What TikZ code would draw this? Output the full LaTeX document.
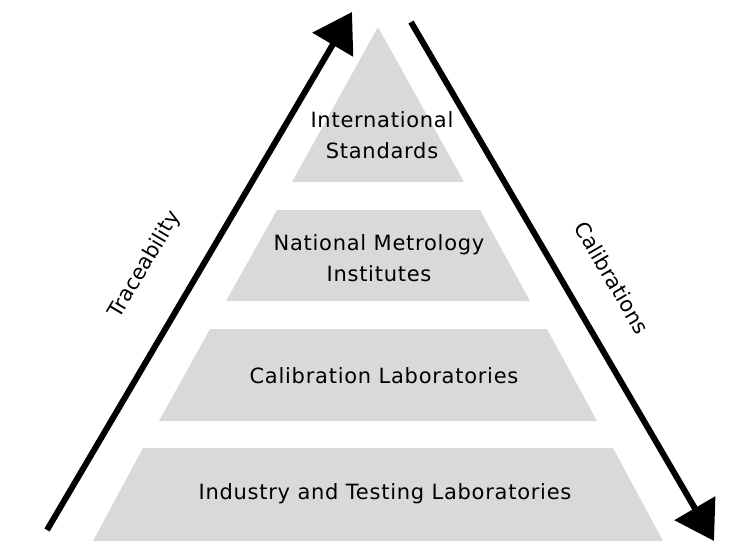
\documentclass[tikz,border=0pt]{standalone}
\usepackage{fontspec}
\setmainfont{DejaVu Sans}
\newfontfamily\tierfont[LetterSpace=3.5]{DejaVu Sans}
\usetikzlibrary{arrows.meta}
\definecolor{band}{HTML}{D9D9D9}
\begin{document}
\begin{tikzpicture}[x=1pt,y=-1pt,
  tier/.style={fill=band,draw=none},
  tierlabel/.style={align=center,inner sep=0pt,font=\tierfont\fontsize{21}{31}\selectfont},
  sidelabel/.style={inner sep=0pt,font=\fontsize{21}{25}\selectfont},
  flow/.style={line width=6pt,-{Triangle[length=38pt,width=46pt]}}]
\useasboundingbox (0,0) rectangle (740,551);
% pyramid tiers, from the apex down
\path[tier] (378,27) -- (464,182) -- (292,182) -- cycle;
\path[tier] (277,210) -- (480,210) -- (530,301) -- (226,301) -- cycle;
\path[tier] (210,329) -- (547,329) -- (597,421) -- (159,421) -- cycle;
\path[tier] (143,448) -- (613,448) -- (663,541) -- (93,541) -- cycle;
% tier captions
\node[tierlabel] (intl) at (382,135) {International\\Standards};
\node[tierlabel] (nmi) at (379,258) {National Metrology\\Institutes};
\node[tierlabel] (cal) at (384,376) {Calibration Laboratories};
\node[tierlabel] (ind) at (385,494) {Industry and Testing Laboratories};
% side arrows
\coordinate (upstart) at (47,530);
\coordinate (uptip) at (352,12);
\coordinate (downstart) at (411,22);
\coordinate (downtip) at (714,541);
\draw[flow] (upstart) -- (uptip);
\draw[flow] (downstart) -- (downtip);
\node[sidelabel,rotate=59.5] (trace) at (145,265) {Traceability};
\node[sidelabel,rotate=-59.7] (calib) at (612,278) {Calibrations};
\end{tikzpicture}
\end{document}
